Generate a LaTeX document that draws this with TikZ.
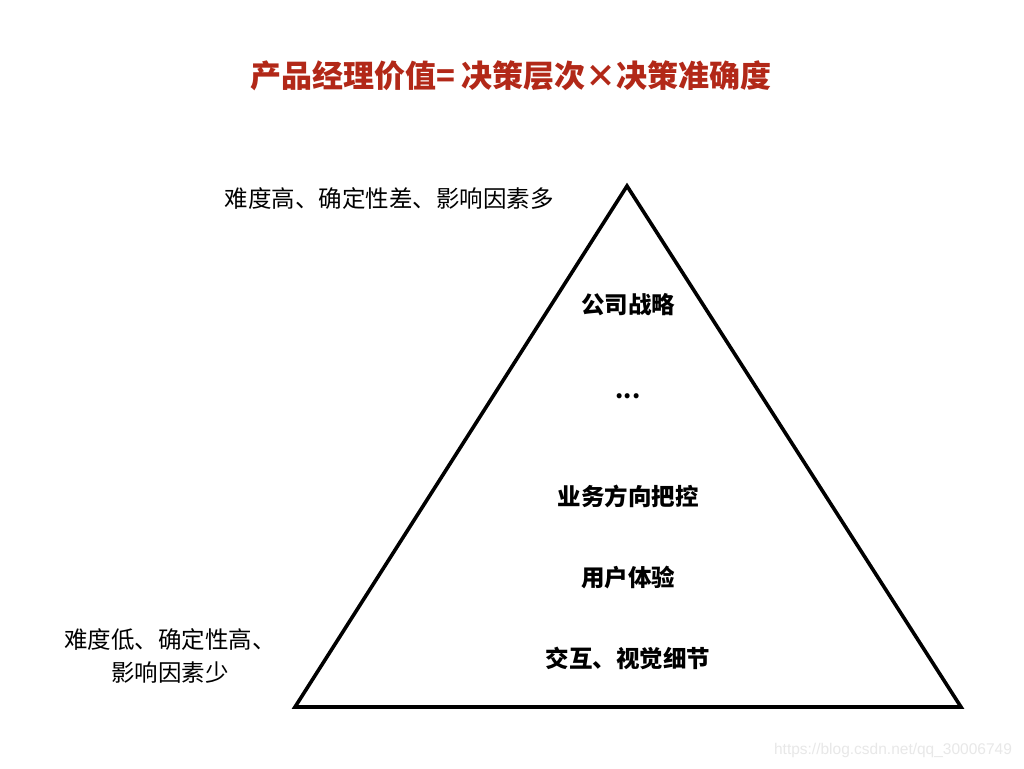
\documentclass[tikz,border=0pt]{standalone}
\usepackage{fontspec}
\setmainfont{Noto Sans CJK SC}
\newfontfamily\cjk{Noto Sans CJK SC}
\newfontfamily\wmfont{Liberation Sans}
\definecolor{titlered}{RGB}{178,40,24}
\definecolor{wmgray}{RGB}{232,232,232}
\tikzset{
  x=1pt,y=-1pt,
  titletext/.style={font=\cjk\bfseries\fontsize{31}{35}\selectfont, text=titlered, inner sep=0},
  note/.style={font=\cjk\fontsize{23.5}{33}\selectfont, inner sep=0, align=center},
  level/.style={font=\cjk\bfseries\fontsize{23.5}{28}\selectfont, inner sep=0},
  tri/.style={draw=black, line width=3.6pt, line join=miter},
}
\begin{document}
\begin{tikzpicture}
\useasboundingbox[fill=white] (0,0) rectangle (1024,768);
\node[titletext] (title) at (511,76) {产品经理价值= 决策层次×决策准确度};
\coordinate (apex) at (627,186);
\coordinate (bl) at (295,707);
\coordinate (br) at (961,707);
\draw[tri] (apex) -- (br) -- (bl) -- cycle;
\node[note] (top) at (389,199) {难度高、确定性差、影响因素多};
\node[note] (bottom) at (170,656) {难度低、确定性高、\\影响因素少};
\node[level] (l1) at (628,305) {公司战略};
\node[level] (l2) at (628,396) {...};
\node[level] (l3) at (628,496) {业务方向把控};
\node[level] (l4) at (628,578) {用户体验};
\node[level] (l5) at (628,658) {交互、视觉细节};
\node[font=\wmfont\fontsize{15.5}{18}\selectfont, text=wmgray, inner sep=0] (wm) at (893,750) {https://blog.csdn.net/qq\_30006749};
\end{tikzpicture}
\end{document}
